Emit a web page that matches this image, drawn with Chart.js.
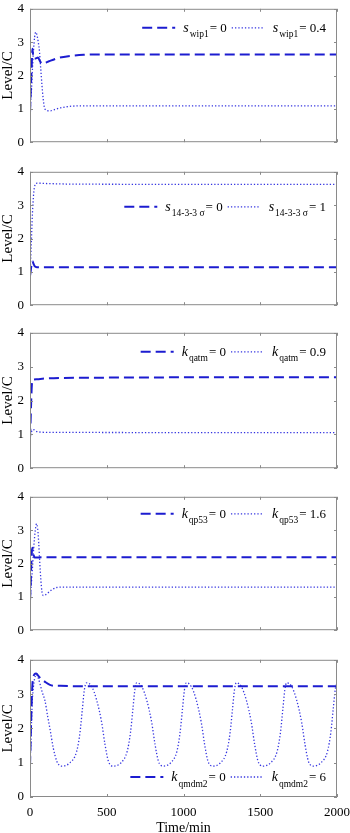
<!DOCTYPE html>
<html>
<head>
<meta charset="utf-8">
<script src="https://cdn.jsdelivr.net/npm/chart.js@4.4.1/dist/chart.umd.min.js"></script>
<style>
  html, body { margin: 0; padding: 0; background: #fff; overflow: hidden; }
  body { width: 350px; height: 833px; position: relative; }
  canvas { position: absolute; left: 0; }
</style>
</head>
<body>
<canvas id="c1" width="360" height="161" style="top:-5px"></canvas>
<canvas id="c2" width="360" height="161" style="top:158px"></canvas>
<canvas id="c3" width="360" height="163" style="top:319px"></canvas>
<canvas id="c4" width="360" height="161" style="top:483px"></canvas>
<canvas id="c5" width="360" height="187" style="top:646px"></canvas>
<script>
// ---- data (time in min, level in units of C) ----
const xTicks = [0, 500, 1000, 1500, 2000];
const yTicks = [0, 1, 2, 3, 4];

// panel 1: s_wip1
const t1Dash = [0, 4, 8, 12, 16, 22, 30, 42, 52, 66, 82, 120, 180, 250, 350, 500, 1000, 2000];
const v1Dash = [0.88, 1.4, 1.9, 2.4, 2.8, 2.52, 2.5, 2.52, 2.54, 2.42, 2.35, 2.42, 2.52, 2.58, 2.62, 2.63, 2.63, 2.63];
const t1Dot = [0, 5, 10, 16, 22, 30, 38, 46, 54, 62, 70, 78, 86, 95, 110, 130, 160, 200, 250, 320, 450, 2000];
const v1Dot = [0.88, 1.2, 1.6, 2.2, 2.7, 3.15, 3.3, 3.2, 3.0, 2.7, 2.2, 1.7, 1.3, 1.02, 0.95, 0.94, 0.98, 1.03, 1.07, 1.09, 1.09, 1.09];

// panel 2: s_14-3-3 sigma
const t2Dash = [0, 4, 8, 12, 16, 22, 30, 45, 100, 2000];
const v2Dash = [0.88, 1.0, 1.15, 1.27, 1.32, 1.25, 1.17, 1.14, 1.14, 1.14];
const t2Dot = [0, 4, 8, 12, 16, 20, 25, 30, 38, 50, 100, 300, 2000];
const v2Dot = [0.9, 1.3, 1.8, 2.3, 2.75, 3.1, 3.4, 3.56, 3.65, 3.66, 3.65, 3.63, 3.62];

// panel 3: k_qatm
const t3Dash = [0, 4, 8, 12, 16, 25, 50, 100, 300, 2000];
const v3Dash = [0.88, 1.4, 2.0, 2.45, 2.6, 2.62, 2.63, 2.65, 2.67, 2.69];
const t3Dot = [0, 5, 10, 18, 28, 40, 60, 100, 2000];
const v3Dot = [0.88, 0.98, 1.08, 1.14, 1.13, 1.09, 1.07, 1.06, 1.05];

// panel 4: k_qp53
const t4Dash = [0, 4, 8, 12, 16, 22, 30, 45, 100, 2000];
const v4Dash = [0.88, 1.3, 1.9, 2.35, 2.47, 2.3, 2.18, 2.18, 2.19, 2.19];
const t4Dot = [0, 6, 12, 18, 24, 30, 36, 43, 50, 57, 64, 71, 78, 87, 100, 120, 145, 175, 210, 400, 2000];
const v4Dot = [0.88, 1.2, 1.6, 2.0, 2.45, 2.8, 3.05, 3.19, 3.05, 2.6, 2.0, 1.5, 1.15, 1.04, 1.06, 1.13, 1.22, 1.28, 1.29, 1.29, 1.29];

// panel 5: k_qmdm2
const t5Dash = [0, 4, 8, 12, 16, 22, 30, 40, 60, 80, 100, 130, 165, 200, 300, 2000];
const v5Dash = [0.9, 1.6, 2.3, 2.9, 3.3, 3.5, 3.58, 3.6, 3.5, 3.42, 3.35, 3.27, 3.24, 3.24, 3.23, 3.23];
const t5Dot = [0, 5, 10, 15, 22, 30, 42, 55, 65, 80, 98, 115, 130, 152, 174, 190, 206, 260, 304, 326, 341, 354, 369,
  402, 434, 467, 489, 510, 525, 539, 593, 633, 655, 670, 683, 695,
  728, 760, 793, 815, 836, 851, 865, 917, 957, 978, 993, 1006, 1018,
  1051, 1083, 1116, 1138, 1159, 1174, 1188, 1241, 1282, 1304, 1319, 1332, 1344,
  1377, 1409, 1442, 1464, 1485, 1500, 1512, 1568, 1610, 1632, 1647, 1660, 1672,
  1705, 1737, 1770, 1792, 1813, 1828, 1842, 1896, 1938, 1960, 1975, 1988, 2000];
const v5Dot = [0.9, 1.5, 2.2, 2.8, 3.2, 3.45, 3.57, 3.45, 3.3, 3.05, 2.8, 2.35, 1.99, 1.42, 1.05, 0.93, 0.9, 1.0, 1.33, 1.89, 2.55, 3.12, 3.33,
  3.22, 2.83, 2.17, 1.52, 1.05, 0.93, 0.9, 1.0, 1.33, 1.89, 2.55, 3.12, 3.33,
  3.22, 2.83, 2.17, 1.52, 1.05, 0.93, 0.9, 1.0, 1.33, 1.89, 2.55, 3.12, 3.33,
  3.22, 2.83, 2.17, 1.52, 1.05, 0.93, 0.9, 1.0, 1.33, 1.89, 2.55, 3.12, 3.33,
  3.22, 2.83, 2.17, 1.52, 1.05, 0.93, 0.9, 1.0, 1.33, 1.89, 2.55, 3.12, 3.33,
  3.22, 2.83, 2.17, 1.52, 1.05, 0.93, 0.9, 1.0, 1.33, 1.89, 2.55, 3.12, 3.33];

// legend labels: [symbol, subscript, value]
const legend1 = [['s', 'wip1', '= 0'], ['s', 'wip1', '= 0.4']];
const legend2 = [['s', '14-3-3 σ', '= 0'], ['s', '14-3-3 σ', '= 1']];
const legend3 = [['k', 'qatm', '= 0'], ['k', 'qatm', '= 0.9']];
const legend4 = [['k', 'qp53', '= 0'], ['k', 'qp53', '= 1.6']];
const legend5 = [['k', 'qmdm2', '= 0'], ['k', 'qmdm2', '= 6']];

const SERIF = '"Liberation Serif", "Times New Roman", serif';
const DASH_COLOR = '#1c1cd0';
const DOT_COLOR = '#3434e0';
const FRAME_COLOR = '#8a8a8a';

function pts(t, v) {
  return t.map((x, i) => ({ x: x, y: v[i] }));
}

// box around the plot with inward ticks on all four sides (matlab style)
const frameTicks = {
  id: 'frameTicks',
  afterDraw(chart) {
    const { ctx, chartArea: a, scales } = chart;
    const len = 3;
    ctx.save();
    ctx.strokeStyle = FRAME_COLOR;
    ctx.lineWidth = 1;
    ctx.setLineDash([]);
    ctx.strokeRect(a.left + 0.5, a.top + 0.5, a.right - a.left - 1, a.bottom - a.top - 1);
    ctx.beginPath();
    xTicks.forEach(v => {
      const px = Math.round(scales.x.getPixelForValue(v)) + 0.5;
      ctx.moveTo(px, a.bottom); ctx.lineTo(px, a.bottom - len);
      ctx.moveTo(px, a.top); ctx.lineTo(px, a.top + len);
    });
    yTicks.forEach(v => {
      const py = Math.round(scales.y.getPixelForValue(v)) + 0.5;
      ctx.moveTo(a.left, py); ctx.lineTo(a.left + len, py);
      ctx.moveTo(a.right, py); ctx.lineTo(a.right - len, py);
    });
    ctx.stroke();
    ctx.restore();
  }
};

// legend with italic symbol + subscript, drawn inside the plot area
const texLegend = {
  id: 'texLegend',
  afterDraw(chart, args, opts) {
    const { ctx, chartArea: a } = chart;
    const y = opts.fromBottom ? a.bottom - opts.offset : a.top + opts.offset;
    const fMain = '13px ' + SERIF, fItal = 'italic 14px ' + SERIF, fSub = '9.5px ' + SERIF;
    const sample = 33, gap = 8, itemGap = 5;
    ctx.save();
    const items = chart.data.datasets.map(ds => {
      const [sym, sub, val] = ds.legendText;
      ctx.font = fItal; const ws = ctx.measureText(sym).width;
      ctx.font = fSub; const wb = ctx.measureText(sub).width;
      ctx.font = fMain; const wv = ctx.measureText(val).width;
      return { ds, sym, sub, val, ws, wb, wv, w: sample + gap + ws + 1 + wb + 1 + wv };
    });
    const total = items.reduce((s, it) => s + it.w, 0) + itemGap * (items.length - 1);
    let x = a.right - 11 - total;
    items.forEach(it => {
      ctx.strokeStyle = it.ds.borderColor;
      ctx.lineWidth = it.ds.borderWidth;
      ctx.setLineDash(it.ds.borderDash);
      ctx.beginPath();
      ctx.moveTo(x, y); ctx.lineTo(x + sample, y);
      ctx.stroke();
      ctx.setLineDash([]);
      ctx.fillStyle = '#000';
      ctx.textBaseline = 'alphabetic';
      ctx.textAlign = 'left';
      let tx = x + sample + gap;
      ctx.font = fItal; ctx.fillText(it.sym, tx, y + 4); tx += it.ws + 1;
      ctx.font = fSub; ctx.fillText(it.sub, tx, y + 9.5); tx += it.wb + 1;
      ctx.font = fMain; ctx.fillText(it.val, tx, y + 4);
      x += it.w + itemGap;
    });
    ctx.restore();
  }
};

function makePanel(id, dashT, dashV, dotT, dotV, labels, legendPos, isBottom) {
  return new Chart(document.getElementById(id), {
    type: 'line',
    data: {
      datasets: [
        { data: pts(dashT, dashV), borderColor: DASH_COLOR, borderWidth: 2, borderDash: [10, 5], legendText: labels[0] },
        { data: pts(dotT, dotV), borderColor: DOT_COLOR, borderWidth: 1.3, borderDash: [1.3, 2], legendText: labels[1] }
      ]
    },
    options: {
      responsive: false,
      animation: false,
      layout: { padding: { top: 10, bottom: isBottom ? 0 : 10, left: 0, right: 23 } },
      elements: {
        point: { radius: 0 },
        line: { cubicInterpolationMode: 'monotone', fill: false }
      },
      plugins: {
        legend: { display: false },
        tooltip: { enabled: false },
        texLegend: legendPos
      },
      scales: {
        x: {
          type: 'linear', min: 0, max: 2000,
          afterBuildTicks: s => { s.ticks = xTicks.map(v => ({ value: v })); },
          ticks: { display: isBottom, padding: 8, color: '#000', maxRotation: 0, font: { family: SERIF, size: 13 },
                   callback: v => String(v) },
          grid: { display: false, drawTicks: false },
          border: { display: false },
          title: { display: isBottom, text: 'Time/min', color: '#000', padding: 0, font: { family: SERIF, size: 14, lineHeight: 0.72 } },
          afterFit: s => { s.height = isBottom ? 36 : 0; }
        },
        y: {
          min: 0, max: 4,
          afterBuildTicks: s => { s.ticks = yTicks.map(v => ({ value: v })); },
          ticks: { padding: 6, color: '#000', font: { family: SERIF, size: 13 }, callback: v => String(v) },
          grid: { display: false, drawTicks: false },
          border: { display: false },
          title: { display: true, text: 'Level/C', color: '#000', padding: 0, font: { family: SERIF, size: 15, lineHeight: 1.07 } },
          afterFit: s => { s.width = 30; }
        }
      }
    },
    plugins: [frameTicks, texLegend]
  });
}

makePanel('c1', t1Dash, v1Dash, t1Dot, v1Dot, legend1, { offset: 19 }, false);
makePanel('c2', t2Dash, v2Dash, t2Dot, v2Dot, legend2, { offset: 35 }, false);
makePanel('c3', t3Dash, v3Dash, t3Dot, v3Dot, legend3, { offset: 19 }, false);
makePanel('c4', t4Dash, v4Dash, t4Dot, v4Dot, legend4, { offset: 17 }, false);
makePanel('c5', t5Dash, v5Dash, t5Dot, v5Dot, legend5, { offset: 20, fromBottom: true }, true);
</script>
</body>
</html>
